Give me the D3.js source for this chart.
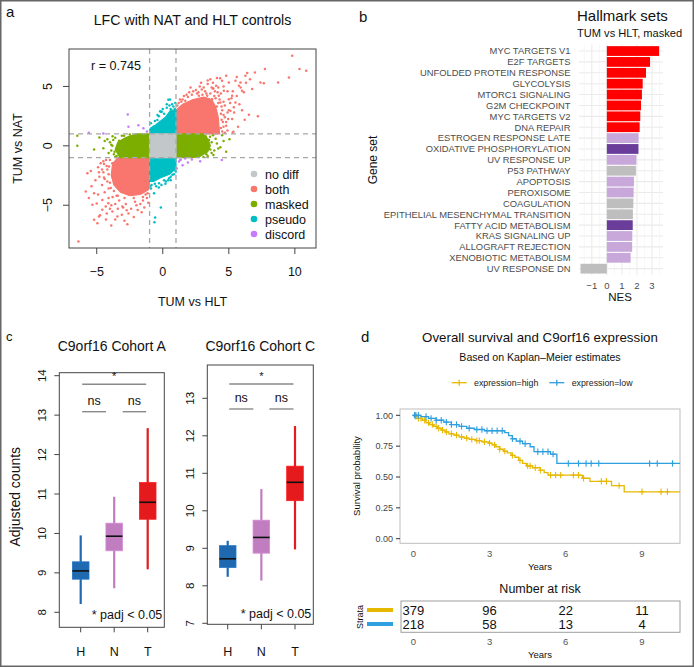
<!DOCTYPE html>
<html><head><meta charset="utf-8">
<script src="https://cdn.jsdelivr.net/npm/d3@7"></script>
<style>body{margin:0;background:#fff} text{font-family:"Liberation Sans",Arial,sans-serif}</style>
</head><body><svg id="fig" width="694" height="667"></svg>
<script>
// ================= DATA =================
// Panel a: scatter classes
const scatterClasses = ["no diff","both","masked","pseudo","discord"];
// dense cores (data coordinates, TUM vs HLT, TUM vs NAT)
const coreNoDiff = [[-1,-1],[1,-1],[1,1],[-1,1]];
const coreBothUp = [[1,1],[1,3.0],[1.5,3.5],[2.3,3.9],[3.1,4.1],[3.7,3.9],[4.0,3.3],[4.2,2.4],[4.3,1.0]];
const coreBothDown = [[-1,-1],[-3.4,-1],[-3.8,-1.5],[-3.9,-2.5],[-3.7,-3.3],[-3.2,-3.9],[-2.5,-4.2],[-1.7,-4.1],[-1.1,-3.7],[-1,-3.0]];
const coreMaskedLeft = [[-1,1],[-2.0,1],[-2.8,0.7],[-3.4,0.3],[-3.6,-0.3],[-3.3,-0.9],[-3.0,-1],[-1,-1]];
const coreMaskedRight = [[1,1],[3.0,1],[3.4,0.6],[3.6,0],[3.4,-0.5],[2.8,-0.9],[2.3,-1],[1,-1]];
const corePseudoUp = [[-1,1],[1,1],[1,3.0],[0.6,3.0],[0.2,2.4],[-0.5,1.8],[-1,1.4]];
const corePseudoDown = [[-1,-1],[1,-1],[1,-1.9],[0.5,-2.4],[-0.2,-2.7],[-0.7,-3.0],[-1,-3.0]];
// sparse points
const ptsBoth = [
 [9.8,7.58],[10.35,6.46],[10.86,6.32],[9.55,5.76],[8.73,5.34],[7.73,6.46],[6.97,6.18],[6.39,6.12],[6.26,5.9],
 [7.39,5.34],[7.65,5.26],[6.77,4.78],[6.52,2.61],[7.2,2.48],[5.3,1.13],[5.25,2.25],[4.95,2.25],[5.88,5.34],
 [5.76,5.05],[6.0,4.63],[6.14,4.5],[5.5,5.48],[5.0,5.34],[4.49,5.48],[4.04,5.05],[3.79,4.83],[5.25,4.21],
 [5.0,3.93],[5.5,3.65],[5.38,3.24],[5.12,2.95],[4.62,4.63],[4.24,4.21],[4.36,3.65],[3.73,3.93],[3.36,4.21],
 [2.98,3.65],[2.73,4.21],[2.47,3.79],[5.35,1.18],[4.34,5.68],[2.95,4.75],[3.83,4.83],[3.2,4.6],[3.6,4.4],
 [4.0,4.0],[4.2,3.6],[4.5,3.0],[4.6,2.6],[4.8,2.0],[4.6,1.6],[4.9,1.3],[3.9,4.2],[2.6,4.4],[2.0,4.5],
 [1.6,4.2],[1.3,3.9],[2.8,5.0],[3.4,5.2],[4.4,4.4],[5.0,3.0],[5.4,2.8],[3.0,4.3],[4.7,3.4],[5.2,4.0],
 [4.2,4.9],[3.6,5.6],[4.45,2.2],[4.5,1.2],[4.7,2.4],[1.1,3.4],[1.8,4.3],[2.3,4.6],[4.1,3.3],[4.4,2.7],
 [1.2,3.6],[1.5,3.9],[1.9,4.1],[2.5,4.7],[3.1,4.9],[3.8,5.3],[4.6,5.0],[4.9,4.6],[5.1,3.6],[4.9,2.8],
 [4.8,1.7],[4.7,1.1],[3.4,5.5],[4.1,5.7],[5.6,4.2],[5.8,3.5],[2.1,4.9],[2.9,5.3],[4.3,3.9],[4.6,3.7],
 [3.7,4.9],[5.3,4.6],[5.9,4.9],[6.3,5.3],[6.6,5.6],[5.6,5.8],[4.8,5.9],[6.0,3.0],[6.2,2.2],[5.7,1.6],
 [1.4,3.7],[2.2,4.3],[2.7,4.5],[3.3,4.4],[4.15,4.5],[4.45,3.3],[4.55,2.0],[4.4,1.5],[3.95,4.6],[1.7,3.8],
 [-6.39,-8.05],[-5.83,-3.84],[-5.71,-2.3],[-5.45,-2.11],[-4.7,-1.46],[-4.45,-1.54],[-4.83,-2.22],[-4.5,-2.22],
 [-5.2,-3.99],[-5.33,-4.97],[-5.2,-6.23],[-4.95,-6.51],[-4.83,-5.95],[-4.58,-5.39],[-4.32,-5.11],[-2.68,-6.6],
 [-3.44,-5.95],[-3.82,-5.53],[-4.12,-4.83],[-3.06,-5.11],[-3.94,-3.56],[-4.2,-3.0],[-4.45,-2.66],[-4.07,-1.74],
 [-3.82,-1.46],[-4.58,-4.55],[-5.0,-4.85],[-4.75,-5.84],[-4.24,-5.7],[-2.73,-5.42],[-4.3,-1.2],[-4.2,-2.0],
 [-4.4,-2.8],[-4.1,-3.6],[-3.8,-4.3],[-3.3,-4.6],[-2.8,-4.9],[-2.1,-4.7],[-1.5,-4.6],[-1.2,-4.4],[-3.6,-4.9],
 [-2.4,-5.3],[-2.0,-5.0],[-1.7,-4.9],[-4.6,-3.3],[-4.8,-2.6],[-3.0,-5.2],[-3.9,-5.0],[-1.3,-4.1],[-3.5,-4.2],
 [-1.1,-4.8],[-1.4,-5.2],[-1.9,-5.4],[-2.6,-5.7],[-3.1,-5.8],[-3.4,-5.3],[-4.1,-4.4],[-4.4,-3.9],[-4.6,-2.0],
 [-4.5,-1.3],[-4.9,-1.8],[-5.1,-2.9],[-5.4,-3.4],[-4.0,-5.3],[-3.6,-6.2],[-2.2,-6.0],[-5.6,-4.4],[-4.3,-6.2],
 [-3.9,-6.7],[-1.6,-5.6],[-2.9,-6.3],[-4.9,-4.1],[-4.0,-1.2],[-4.1,-2.4],[-4.0,-3.1],[-3.7,-3.8],[-2.9,-4.4],
 [-2.2,-4.4],[-1.5,-4.3],[-1.15,-4.0],[-3.4,-4.2],[-4.25,-1.7]
];
const ptsMasked = [
 [-6.47,0.84],[-3.6,0.67],[-3.36,0.2],[-6.47,0],[-4.2,0.56],[-3.82,0],[-3.3,0.42],[-2.93,0.84],[-2.55,0.7],
 [-3.9,-0.4],[-3.7,-0.7],[-4.0,0.3],[-3.5,-0.85],[-2.5,0.95],[-4.5,-0.2],[-3.2,-0.95],[-3.75,0.5],
 [-3.9,0.1],[-4.1,-0.6],[-3.8,0.8],[-4.4,0.4],[-3.6,-0.95],[-4.8,0.7],[-5.2,-0.3],[-3.1,0.85],[-3.65,-0.5],
 [2.83,-0.5],[3.45,-0.08],[3.83,-0.78],[4.2,-0.22],[3.58,0.76],[3.08,-0.93],[4.49,0.9],[5.05,0.56],
 [3.36,0.42],[4.36,-0.13],[3.7,0.3],[3.9,-0.4],[3.3,-0.7],[3.0,0.9],[4.0,0.6],[2.6,-0.95],[3.6,-0.3],
 [3.8,0.9],[4.1,0.2],[3.7,-0.6],[3.5,0.5],[4.6,0.4],[3.4,-0.85],[4.8,-0.5],[3.25,0.8]
];
const ptsPseudo = [
 [0.55,3.9],[-0.08,2.87],[0.8,3.3],[0.42,3.88],[-0.15,2.87],[-0.41,2.17],[-0.7,1.6],[0.3,3.2],[0.7,3.5],
 [0.9,3.1],[-0.3,2.5],[0.1,2.7],[-0.85,1.5],[0.6,3.1],[-0.9,1.9],[-0.6,2.1],[-0.2,2.9],[0.3,3.5],
 [0.95,3.6],[0.5,3.4],[-0.4,2.6],[0.0,3.1],
 [-0.15,-5.19],[-0.58,-6.03],[-0.63,-6.43],[-0.66,-3.99],[-0.28,-3.14],[0.48,-2.72],[0.73,-2.44],[0.98,-2.16],
 [0.23,-3.0],[-0.85,-3.3],[-0.5,-3.4],[0.1,-2.9],[-0.9,-3.6],[0.9,-2.0],[0.6,-2.6],[-0.95,-3.4],[-0.6,-3.2],
 [-0.3,-3.5],[0.2,-3.2],[0.6,-2.9],[0.85,-2.4],[0.4,-2.9],[-0.1,-3.3]
];
const ptsDiscord = [
 [-5.6,1.1],[-4.5,1.04],[-2.6,1.6],[-2.65,2.64],[-1.85,1.74],[-1.47,1.47],[-1.2,1.2],[1.31,-1.2],[1.5,-1.63],
 [1.69,-1.06],[2.83,-1.3],[4.47,-1.2],[1.06,-1.9],[1.23,-1.32],[1.36,-1.18],[2.2,-1.15],[1.9,-1.4]
];
const aTicksX = [-5,0,5,10];
const aTicksY = [-5,0,5];
const aCutoffs = [-1,1];

// Panel b: hallmark gene sets
const hallmarkSets = ["MYC TARGETS V1","E2F TARGETS","UNFOLDED PROTEIN RESPONSE","GLYCOLYSIS","MTORC1 SIGNALING",
 "G2M CHECKPOINT","MYC TARGETS V2","DNA REPAIR","ESTROGEN RESPONSE LATE","OXIDATIVE PHOSPHORYLATION",
 "UV RESPONSE UP","P53 PATHWAY","APOPTOSIS","PEROXISOME","COAGULATION","EPITHELIAL MESENCHYMAL TRANSITION",
 "FATTY ACID METABOLISM","KRAS SIGNALING UP","ALLOGRAFT REJECTION","XENOBIOTIC METABOLISM","UV RESPONSE DN"];
const hallmarkNES = [3.47,2.87,2.6,2.38,2.33,2.27,2.22,2.18,2.11,2.1,1.96,1.93,1.8,1.78,1.76,1.73,1.72,1.69,1.68,1.58,-1.75];
const hallmarkGroup = ["red","red","red","red","red","red","red","red","light","dark","light","gray","light","light",
 "gray","gray","dark","light","light","light","gray"];
const bTicks = [-1,0,1,2,3];

// Panel c: box plots (whisker low, Q1, median, Q3, whisker high)
const boxGroups = ["H","N","T"];
const cohortA_lo  = [8.21, 8.61, 9.09];
const cohortA_q1  = [8.84, 9.56, 10.36];
const cohortA_med = [9.05, 9.93, 10.79];
const cohortA_q3  = [9.28, 10.26, 11.29];
const cohortA_hi  = [9.95, 10.93, 12.67];
const cohortC_lo  = [8.24, 8.14, 8.97];
const cohortC_q1  = [8.49, 8.87, 10.27];
const cohortC_med = [8.72, 9.29, 10.76];
const cohortC_q3  = [9.07, 9.75, 11.19];
const cohortC_hi  = [9.2, 10.58, 12.26];
const cohortA_ticks = [8,9,10,11,12,13,14];
const cohortC_ticks = [7,8,9,10,11,12,13];

// Panel d: Kaplan-Meier
const kmHigh = [[0,1],[0.1,0.99],[0.2,0.975],[0.35,0.96],[0.5,0.94],[0.65,0.925],[0.8,0.91],[0.95,0.895],[1.1,0.88],
 [1.25,0.865],[1.4,0.85],[1.6,0.84],[1.8,0.825],[2.0,0.815],[2.2,0.805],[2.45,0.795],[2.7,0.785],[2.95,0.775],
 [3.1,0.76],[3.25,0.745],[3.4,0.725],[3.55,0.71],[3.7,0.695],[3.85,0.675],[4.0,0.66],[4.15,0.635],[4.3,0.61],
 [4.45,0.59],[4.7,0.575],[5.0,0.555],[5.15,0.535],[5.3,0.515],[6.65,0.49],[6.95,0.465],[7.8,0.43],[8.3,0.38],[10.5,0.38]];
const kmLow = [[0,1],[0.3,0.99],[0.6,0.975],[0.9,0.96],[1.2,0.945],[1.5,0.925],[1.8,0.91],[2.1,0.895],[2.4,0.885],
 [2.8,0.875],[3.6,0.86],[3.75,0.835],[3.9,0.81],[4.05,0.79],[4.3,0.77],[4.6,0.745],[4.75,0.705],[5.4,0.685],
 [5.65,0.61],[10.5,0.61]];
const censorHigh = [0.1,0.2,0.3,0.45,0.6,0.75,0.9,1.0,1.15,1.3,1.5,1.7,1.9,2.1,2.3,2.5,2.6,2.8,3.0,3.2,3.4,3.6,
 3.9,4.2,4.5,4.6,4.8,5.0,5.4,5.6,5.8,6.3,6.5,6.7,7.4,7.6,8.1,9.0,9.75,10.0];
const censorLow = [0.05,0.1,0.2,0.5,0.7,0.9,1.1,1.3,1.5,1.7,1.9,2.2,2.5,2.7,2.9,3.1,3.3,3.5,3.9,4.2,4.4,4.9,
 5.1,5.3,5.5,6.1,6.5,6.8,7.0,7.3,9.3,9.6,10.2];
const kmTicksX = [0,3,6,9];
const kmTicksY = [0,0.25,0.5,0.75,1];
const riskHigh = [379,96,22,11];
const riskLow = [218,58,13,4];

// ================= DRAW =================
const svg = d3.select("#fig");
function txt(g,x,y,s,size,opts={}){
  const t = g.append("text").attr("x",x).attr("y",y).text(s).attr("font-size",size)
    .attr("fill",opts.fill||"#111").attr("text-anchor",opts.anchor||"start");
  if(opts.rotate!==undefined) t.attr("transform",`rotate(${opts.rotate},${x},${y})`);
  if(opts.weight) t.attr("font-weight",opts.weight);
  if(opts.style) t.attr("font-style",opts.style);
  return t;
}
svg.append("rect").attr("x",0.75).attr("y",0.75).attr("width",692.5).attr("height",665.5)
  .attr("fill","none").attr("stroke","#666").attr("stroke-width",1.5);

// ---------- Panel a ----------
{
  const g = svg.append("g");
  const x = d3.scaleLinear().domain([-7.1,11.6]).range([69,316]);
  const y = d3.scaleLinear().domain([-8.6,8.15]).range([248,49]);
  const col = {"no diff":"#C2C8CA","both":"#F8766D","masked":"#7CAE00","pseudo":"#00BFC4","discord":"#C77CFF"};
  txt(g,6,17,"a",15);
  txt(g,192.5,25,"LFC with NAT and HLT controls",14.2,{anchor:"middle"});
  svg.append("clipPath").attr("id","clipA").append("rect").attr("x",69).attr("y",49).attr("width",247).attr("height",199);
  const p = g.append("g").attr("clip-path","url(#clipA)");
  const line = d3.line().x(d=>x(d[0])).y(d=>y(d[1]));
  const poly = (pts,c)=>p.append("path").attr("d",line(pts)+"Z").attr("fill",c).attr("stroke",c).attr("stroke-width",1.2);
  poly(coreBothUp,col.both); poly(coreBothDown,col.both);
  poly(coreMaskedLeft,col.masked); poly(coreMaskedRight,col.masked);
  poly(corePseudoUp,col.pseudo); poly(corePseudoDown,col.pseudo);
  const dots=(pts,c)=>p.selectAll(null).data(pts).enter().append("circle")
    .attr("cx",d=>x(d[0])).attr("cy",d=>y(d[1])).attr("r",1.25).attr("fill",c);
  dots(ptsBoth,col.both); dots(ptsMasked,col.masked); dots(ptsPseudo,col.pseudo);
  poly(coreNoDiff,col["no diff"]);
  dots(ptsDiscord,col.discord);
  aCutoffs.forEach(v=>{
    p.append("line").attr("x1",x(v)).attr("x2",x(v)).attr("y1",49).attr("y2",248)
      .attr("stroke","#A8A8A8").attr("stroke-width",1.3).attr("stroke-dasharray","5,4");
    p.append("line").attr("y1",y(v)).attr("y2",y(v)).attr("x1",69).attr("x2",316)
      .attr("stroke","#A8A8A8").attr("stroke-width",1.3).attr("stroke-dasharray","5,4");
  });
  g.append("rect").attr("x",69).attr("y",49).attr("width",247).attr("height",199)
    .attr("fill","none").attr("stroke","#444").attr("stroke-width",1);
  aTicksX.forEach(v=>{
    g.append("line").attr("x1",x(v)).attr("x2",x(v)).attr("y1",248).attr("y2",254).attr("stroke","#444");
    txt(g,x(v),276,v<0?"\u2212"+Math.abs(v):String(v),12.5,{anchor:"middle"});
  });
  aTicksY.forEach(v=>{
    g.append("line").attr("y1",y(v)).attr("y2",y(v)).attr("x1",63).attr("x2",69).attr("stroke","#444");
    txt(g,52.5,y(v),v<0?"\u2212"+Math.abs(v):String(v),12.5,{anchor:"middle",rotate:-90});
  });
  txt(g,192.5,306,"TUM vs HLT",12.5,{anchor:"middle"});
  txt(g,21.5,148.5,"TUM vs NAT",12.5,{anchor:"middle",rotate:-90});
  txt(g,91,69.5,"r = 0.745",12.6);
  scatterClasses.forEach((c,i)=>{
    g.append("circle").attr("cx",254).attr("cy",174+i*15).attr("r",3.3).attr("fill",col[c]);
    txt(g,265,178.5+i*15,c,12.5);
  });
}

// ---------- Panel b ----------
{
  const g = svg.append("g");
  const x = d3.scaleLinear().domain([-1.85,3.73]).range([579,663]);
  const y = d3.scalePoint().domain(hallmarkSets).range([51.04,268.66]);
  const step = y.step();
  const top = 51.04-0.6*step, bot = 268.66+0.6*step;
  const colors = {red:"#FF0000",light:"#C8A8DA",dark:"#6A3D9A",gray:"#BEBEBE"};
  txt(g,359,22,"b",15);
  txt(g,577,21,"Hallmark sets",15);
  txt(g,577,37,"TUM vs HLT, masked",11.1);
  d3.range(-1.5,4,1).forEach(v=>g.append("line").attr("x1",x(v)).attr("x2",x(v)).attr("y1",top).attr("y2",bot).attr("stroke","#F2F2F2").attr("stroke-width",0.6));
  bTicks.forEach(v=>g.append("line").attr("x1",x(v)).attr("x2",x(v)).attr("y1",top).attr("y2",bot).attr("stroke","#EBEBEB").attr("stroke-width",1.1));
  hallmarkSets.forEach(s=>g.append("line").attr("x1",579).attr("x2",663).attr("y1",y(s)).attr("y2",y(s)).attr("stroke","#EBEBEB").attr("stroke-width",1.1));
  g.selectAll(null).data(hallmarkSets).enter().append("rect")
    .attr("x",(d,i)=>x(Math.min(0,hallmarkNES[i])))
    .attr("width",(d,i)=>Math.abs(x(hallmarkNES[i])-x(0)))
    .attr("y",d=>y(d)-0.45*step).attr("height",0.9*step)
    .attr("fill",(d,i)=>colors[hallmarkGroup[i]]);
  hallmarkSets.forEach(s=>txt(g,570.5,y(s)+3.4,s,9.4,{anchor:"end",fill:"#4D4D4D"}));
  bTicks.forEach(v=>txt(g,x(v),288.5,v<0?"\u2212"+Math.abs(v):String(v),9.5,{anchor:"middle",fill:"#4D4D4D"}));
  txt(g,620,301,"NES",11.5,{anchor:"middle"});
  txt(g,377,160,"Gene set",12,{anchor:"middle",rotate:-90});
}

// ---------- Panel c ----------
function boxPanel(cfg){
  const g = svg.append("g");
  const y = d3.scaleLinear().domain(cfg.dom).range(cfg.rng);
  const x = d3.scalePoint().domain(boxGroups).range(cfg.xr);
  const cols = ["#1F69B1","#C07EC1","#E41A1C"];
  txt(g,(cfg.frame[0]+cfg.frame[1])/2,cfg.titleY,cfg.title,14,{anchor:"middle"});
  boxGroups.forEach((gr,i)=>{
    const cx = x(gr);
    g.append("line").attr("x1",cx).attr("x2",cx).attr("y1",y(cfg.lo[i])).attr("y2",y(cfg.hi[i]))
      .attr("stroke",cols[i]).attr("stroke-width",2.2);
    g.append("rect").attr("x",cx-8.3).attr("width",16.6).attr("y",y(cfg.q3[i])).attr("height",y(cfg.q1[i])-y(cfg.q3[i]))
      .attr("fill",cols[i]).attr("stroke",d3.color(cols[i]).brighter(0.3)).attr("stroke-width",0.8);
    g.append("line").attr("x1",cx-8.3).attr("x2",cx+8.3).attr("y1",y(cfg.med[i])).attr("y2",y(cfg.med[i]))
      .attr("stroke","#111").attr("stroke-width",1.6);
    g.append("line").attr("x1",cx).attr("x2",cx).attr("y1",cfg.frame[3]).attr("y2",cfg.frame[3]+5).attr("stroke","#444");
    txt(g,cx,656,gr,12.5,{anchor:"middle"});
  });
  g.append("rect").attr("x",cfg.frame[0]).attr("y",cfg.frame[2]).attr("width",cfg.frame[1]-cfg.frame[0])
    .attr("height",cfg.frame[3]-cfg.frame[2]).attr("fill","none").attr("stroke","#444");
  cfg.ticks.forEach(v=>{
    g.append("line").attr("x1",cfg.frame[0]-5).attr("x2",cfg.frame[0]).attr("y1",y(v)).attr("y2",y(v)).attr("stroke","#444");
    txt(g,cfg.frame[0]-17,y(v),String(v),11.5,{anchor:"middle",rotate:-90}).attr("dy","0.35em");
  });
  const sg="#8A8A8A";
  const [hx,nx,tx] = boxGroups.map(d=>x(d));
  g.append("line").attr("x1",hx+1.5).attr("x2",tx-1.5).attr("y1",cfg.sigTop).attr("y2",cfg.sigTop).attr("stroke",sg).attr("stroke-width",1.4);
  txt(g,(hx+tx)/2,cfg.sigTop-4,"*",11,{anchor:"middle"});
  [[hx+1.5,cfg.nsL],[cfg.nsR,tx-1.5]].forEach(([a,b])=>{
    g.append("line").attr("x1",a).attr("x2",b).attr("y1",cfg.sigNs).attr("y2",cfg.sigNs).attr("stroke",sg).attr("stroke-width",1.4);
    txt(g,(a+b)/2,cfg.sigNs-7,"ns",12.5,{anchor:"middle"});
  });
  txt(g,cfg.frame[1]-2,cfg.padjY,"* padj < 0.05",12.5,{anchor:"end"});
}
txt(svg,6,341,"c",13);
boxPanel({title:"C9orf16 Cohort A",titleY:351,dom:[8,14],rng:[612.3,375.7],xr:[80.7,147.7],frame:[59.3,164.3,372.7,627.3],
  lo:cohortA_lo,q1:cohortA_q1,med:cohortA_med,q3:cohortA_q3,hi:cohortA_hi,ticks:cohortA_ticks,
  sigTop:384.3,sigNs:411.7,nsL:106,nsR:122.7,padjY:618.5});
boxPanel({title:"C9orf16 Cohort C",titleY:351,dom:[7,13],rng:[623.3,398.3],xr:[227.7,295],frame:[207.3,313.3,365,624.3],
  lo:cohortC_lo,q1:cohortC_q1,med:cohortC_med,q3:cohortC_q3,hi:cohortC_hi,ticks:cohortC_ticks,
  sigTop:384,sigNs:409,nsL:253.3,nsR:269.3,padjY:618});
txt(svg,20,496.7,"Adjusted counts",14,{anchor:"middle",rotate:-90});

// ---------- Panel d ----------
{
  const g = svg.append("g");
  const x = d3.scaleLinear().domain([0,9]).range([413.3,642]);
  const y = d3.scaleLinear().domain([0,1]).range([538.7,415.3]);
  const cHigh="#E7B800", cLow="#2E9FDF";
  txt(g,361,342,"d",15);
  txt(g,540,341.5,"Overall survival and C9orf16 expression",13.3,{anchor:"middle"});
  txt(g,540,360.5,"Based on Kaplan\u2013Meier estimates",10.6,{anchor:"middle"});
  [[451.7,474,cHigh,"expression=high"],[549.3,571.7,cLow,"expression=low"]].forEach(([lx,tx,c,s])=>{
    g.append("line").attr("x1",lx).attr("x2",lx+15).attr("y1",382.7).attr("y2",382.7).attr("stroke",c).attr("stroke-width",1.3);
    g.append("line").attr("x1",lx+7.5).attr("x2",lx+7.5).attr("y1",379.7).attr("y2",385.7).attr("stroke",c).attr("stroke-width",1.3);
    txt(g,tx,385.8,s,8.8,{fill:"#222"});
  });
  g.append("rect").attr("x",400).attr("y",409).attr("width",280).attr("height",134.3).attr("fill","none").attr("stroke","#BDBDBD").attr("stroke-width",1);
  const line = d3.line().x(d=>x(d[0])).y(d=>y(d[1])).curve(d3.curveStepAfter);
  const stepVal=(km,t)=>{let v=1; km.forEach(d=>{if(d[0]<=t) v=d[1];}); return v;};
  [[kmHigh,censorHigh,cHigh],[kmLow,censorLow,cLow]].forEach(([km,cens,c])=>{
    g.append("path").attr("d",line(km)).attr("fill","none").attr("stroke",c).attr("stroke-width",1.3);
    cens.forEach(t=>{
      const cx=x(t), cy=y(stepVal(km,t));
      g.append("line").attr("x1",cx).attr("x2",cx).attr("y1",cy-3.2).attr("y2",cy+3.2).attr("stroke",c).attr("stroke-width",1.1);
      g.append("line").attr("x1",cx-2.5).attr("x2",cx+2.5).attr("y1",cy).attr("y2",cy).attr("stroke",c).attr("stroke-width",1.1);
    });
  });
  kmTicksY.forEach(v=>{
    g.append("line").attr("x1",396).attr("x2",400).attr("y1",y(v)).attr("y2",y(v)).attr("stroke","#333");
    txt(g,393,y(v)+3.2,v.toFixed(2),9,{anchor:"end",fill:"#444"});
  });
  kmTicksX.forEach(v=>txt(g,x(v),556.5,String(v),9.5,{anchor:"middle",fill:"#555"}));
  txt(g,540,570,"Years",9.5,{anchor:"middle"});
  txt(g,360,476,"Survival probability",9.5,{anchor:"middle",rotate:-90});
  txt(g,540,592.5,"Number at risk",12.5,{anchor:"middle"});
  g.append("rect").attr("x",401).attr("y",601).attr("width",279).attr("height",31.3).attr("fill","none").attr("stroke","#9E9E9E").attr("stroke-width",1);
  [[riskHigh,610,cHigh],[riskLow,624,cLow]].forEach(([vals,ry,c])=>{
    kmTicksX.forEach((t,i)=>txt(g,x(t),ry+4.6,String(vals[i]),13,{anchor:"middle"}));
    g.append("line").attr("x1",367).attr("x2",393).attr("y1",ry).attr("y2",ry).attr("stroke",c).attr("stroke-width",4);
  });
  txt(g,360,617,"Strata",9,{anchor:"middle",rotate:-90}).attr("dy","0.35em");
  kmTicksX.forEach(v=>txt(g,x(v),645,String(v),9.5,{anchor:"middle",fill:"#555"}));
  txt(g,540,657.5,"Years",9.5,{anchor:"middle"});
}
</script></body></html>
